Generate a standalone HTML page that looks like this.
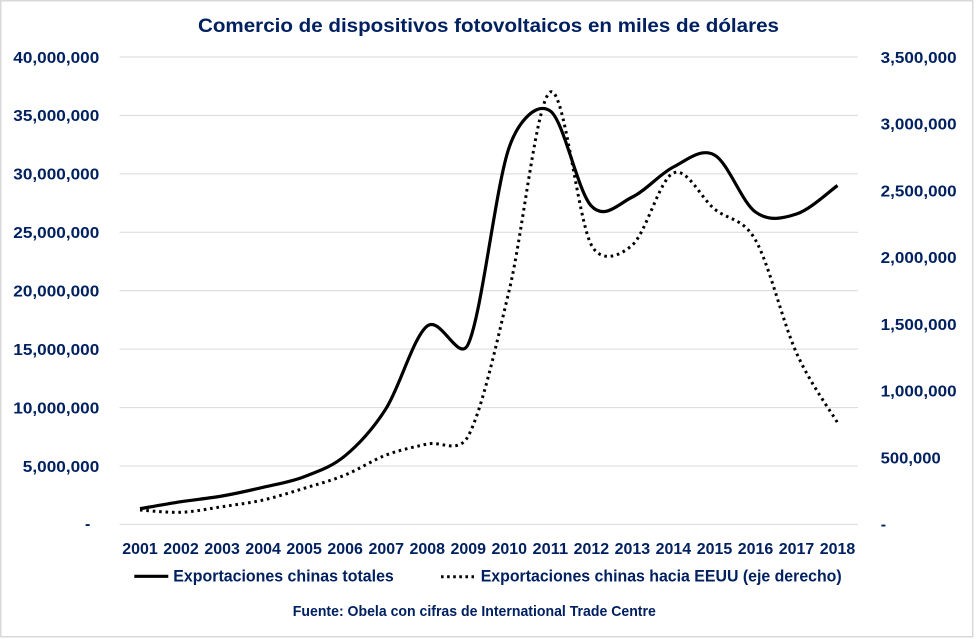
<!DOCTYPE html>
<html>
<head>
<meta charset="utf-8">
<style>
html,body{margin:0;padding:0;background:#fff;}
svg{display:block;}
text{font-family:"Liberation Sans",Arial,sans-serif;font-weight:bold;fill:#002060;}
</style>
</head>
<body>
<svg width="977" height="639" viewBox="0 0 977 639" xmlns="http://www.w3.org/2000/svg">
<rect x="0" y="0" width="977" height="639" fill="#fff"/>
<rect x="0.75" y="0.75" width="972" height="636" fill="none" stroke="#d9d9d9" stroke-width="1.5"/>

<!-- title -->
<text x="198" y="32" font-size="19" textLength="581" lengthAdjust="spacingAndGlyphs">Comercio de dispositivos fotovoltaicos en miles de dólares</text>

<!-- gridlines -->
<g stroke="#d9d9d9" stroke-width="1">
<line x1="119.5" x2="858" y1="57" y2="57"/>
<line x1="119.5" x2="858" y1="115.4" y2="115.4"/>
<line x1="119.5" x2="858" y1="173.9" y2="173.9"/>
<line x1="119.5" x2="858" y1="232.3" y2="232.3"/>
<line x1="119.5" x2="858" y1="290.7" y2="290.7"/>
<line x1="119.5" x2="858" y1="349.1" y2="349.1"/>
<line x1="119.5" x2="858" y1="407.6" y2="407.6"/>
<line x1="119.5" x2="858" y1="466" y2="466"/>
<line x1="119.5" x2="858" y1="524.4" y2="524.4"/>
</g>

<!-- left axis labels -->
<g font-size="16">
<text x="13.3" y="62.8" textLength="86" lengthAdjust="spacingAndGlyphs">40,000,000</text>
<text x="13.3" y="121.2" textLength="86" lengthAdjust="spacingAndGlyphs">35,000,000</text>
<text x="13.3" y="179.7" textLength="86" lengthAdjust="spacingAndGlyphs">30,000,000</text>
<text x="13.3" y="238.1" textLength="86" lengthAdjust="spacingAndGlyphs">25,000,000</text>
<text x="13.3" y="296.5" textLength="86" lengthAdjust="spacingAndGlyphs">20,000,000</text>
<text x="13.3" y="354.9" textLength="86" lengthAdjust="spacingAndGlyphs">15,000,000</text>
<text x="13.3" y="413.4" textLength="86" lengthAdjust="spacingAndGlyphs">10,000,000</text>
<text x="22.8" y="471.8" textLength="76.5" lengthAdjust="spacingAndGlyphs">5,000,000</text>
<text x="85" y="529.2">-</text>
</g>

<!-- right axis labels -->
<g font-size="16">
<text x="880.7" y="62.8" textLength="76" lengthAdjust="spacingAndGlyphs">3,500,000</text>
<text x="880.7" y="129.6" textLength="76" lengthAdjust="spacingAndGlyphs">3,000,000</text>
<text x="880.7" y="196.3" textLength="76" lengthAdjust="spacingAndGlyphs">2,500,000</text>
<text x="880.7" y="263.1" textLength="76" lengthAdjust="spacingAndGlyphs">2,000,000</text>
<text x="880.7" y="329.9" textLength="76" lengthAdjust="spacingAndGlyphs">1,500,000</text>
<text x="880.7" y="396.7" textLength="76" lengthAdjust="spacingAndGlyphs">1,000,000</text>
<text x="880.7" y="463.4" textLength="60" lengthAdjust="spacingAndGlyphs">500,000</text>
<text x="880.7" y="529.6">-</text>
</g>

<!-- x labels -->
<g font-size="16" id="xl"></g>

<!-- series -->
<path id="s1" d="" fill="none" stroke="#000" stroke-width="3.2" stroke-linejoin="round" stroke-linecap="butt"/>
<path id="s2" d="" fill="none" stroke="#000" stroke-width="3" stroke-dasharray="2.6 3.8" stroke-linecap="butt"/>

<!-- legend -->
<line x1="134.3" x2="168.3" y1="576.3" y2="576.3" stroke="#000" stroke-width="3.2"/>
<text x="173.3" y="581.7" font-size="17" textLength="220.5" lengthAdjust="spacingAndGlyphs">Exportaciones chinas totales</text>
<line x1="441" x2="474" y1="576.7" y2="576.7" stroke="#000" stroke-width="3" stroke-dasharray="2.6 3.5"/>
<text x="480.7" y="581.7" font-size="17" textLength="361" lengthAdjust="spacingAndGlyphs">Exportaciones chinas hacia EEUU (eje derecho)</text>

<!-- source -->
<text x="292.8" y="616" font-size="15" textLength="363" lengthAdjust="spacingAndGlyphs">Fuente: Obela con cifras de International Trade Centre</text>
</svg>

<script>
(function(){
  var NS="http://www.w3.org/2000/svg";
  function X(i){return 119.5+41.03*(i+0.5);}
  var g=document.getElementById("xl");
  for(var i=0;i<18;i++){
    var t=document.createElementNS(NS,"text");
    t.setAttribute("x",(X(i)-17.75).toFixed(2));
    t.setAttribute("y","554");
    t.setAttribute("textLength","35.5");
    t.setAttribute("lengthAdjust","spacingAndGlyphs");
    t.textContent=String(2001+i);
    g.appendChild(t);
  }
  var solid=[508.7,501.7,496,487.3,476.7,455.7,408.3,326,344,147,111,206,197,167,155,212,214,185.5];
  var dotted=[510,512.3,506.7,500,488.3,475,455,444,436,290,92,245,245,173,209,240,353,422.7];
  function dist(a,b){var dx=b[0]-a[0],dy=b[1]-a[1];return Math.sqrt(dx*dx+dy*dy);}
  function path(ys){
    var p=ys.map(function(y,i){return [X(i),y];});
    var n=p.length, cin=[], cout=[];
    for(var i=0;i<n;i++){
      var a=p[i-1]||p[i], b=p[i+1]||p[i];
      var tx=b[0]-a[0], ty=b[1]-a[1];
      var tl=Math.sqrt(tx*tx+ty*ty)||1;
      var d1=i>0?dist(p[i-1],p[i]):0, d2=i<n-1?dist(p[i],p[i+1]):0;
      var fo=Math.min(1/6,0.5*d2/tl), fi=Math.min(1/6,0.5*d1/tl);
      cout.push([p[i][0]+tx*fo,p[i][1]+ty*fo]);
      cin.push([p[i][0]-tx*fi,p[i][1]-ty*fi]);
    }
    var d="M"+p[0][0].toFixed(2)+","+p[0][1].toFixed(2);
    for(var j=0;j<n-1;j++){
      d+=" C"+cout[j][0].toFixed(2)+","+cout[j][1].toFixed(2)+" "+cin[j+1][0].toFixed(2)+","+cin[j+1][1].toFixed(2)+" "+p[j+1][0].toFixed(2)+","+p[j+1][1].toFixed(2);
    }
    return d;
  }
  document.getElementById("s1").setAttribute("d",path(solid));
  document.getElementById("s2").setAttribute("d",path(dotted));
})();
</script>
</body>
</html>
